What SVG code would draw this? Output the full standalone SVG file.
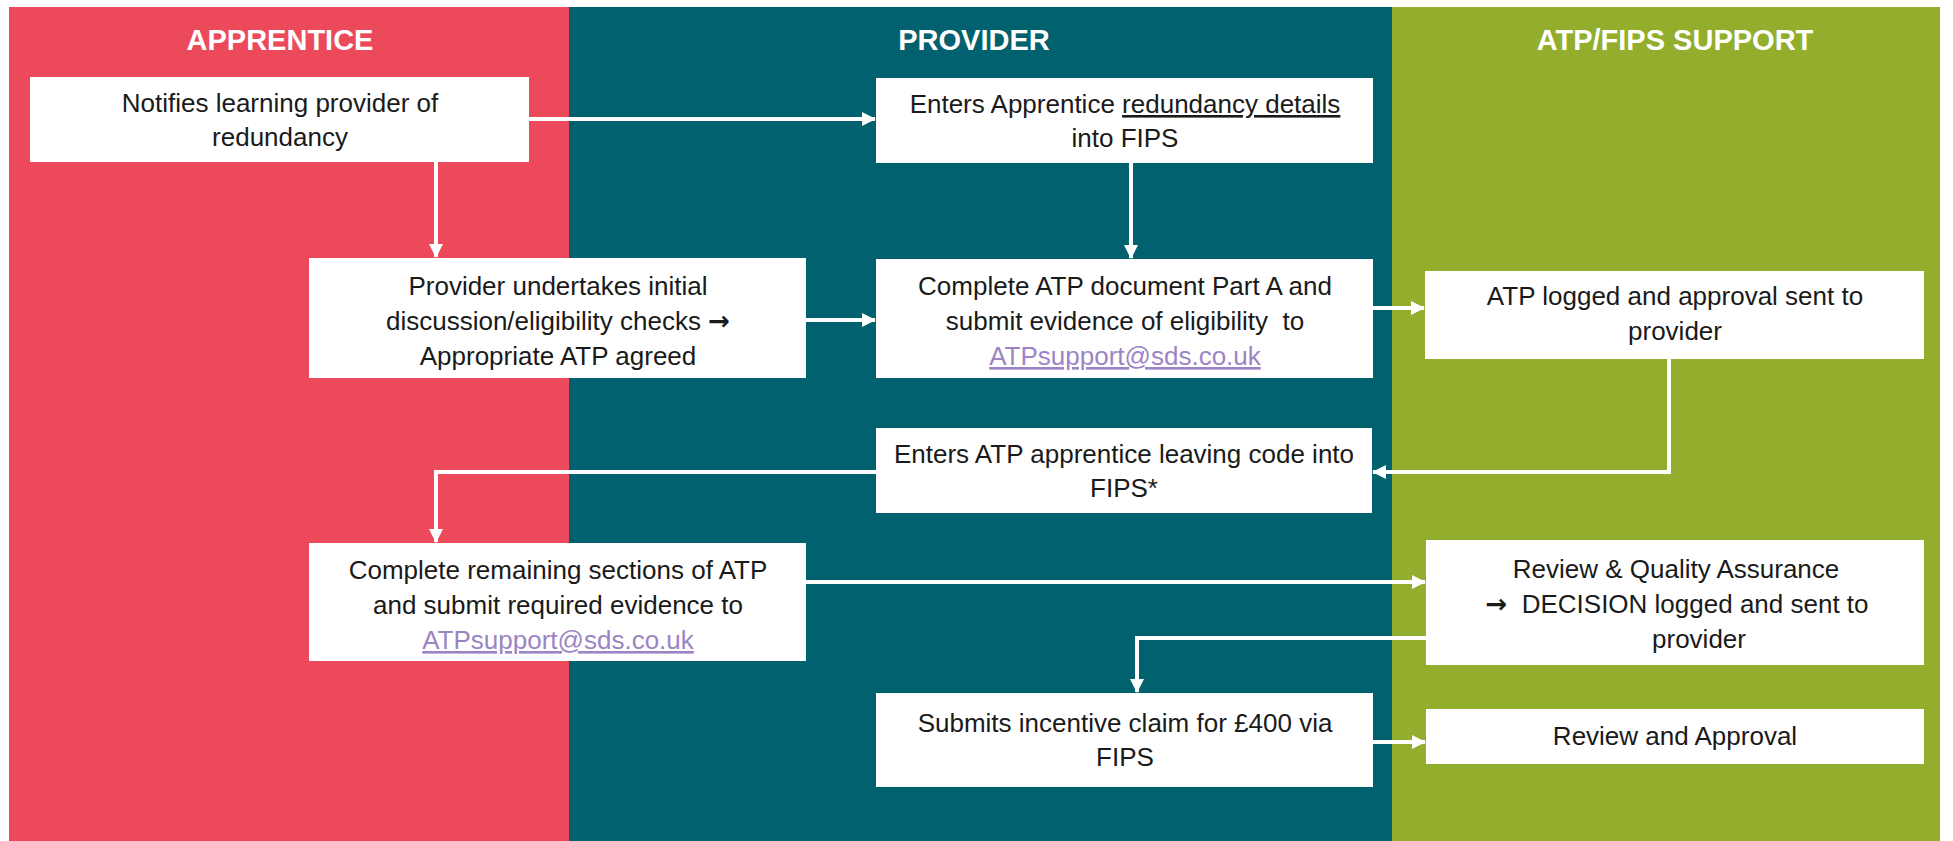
<svg xmlns="http://www.w3.org/2000/svg" width="1953" height="841" viewBox="0 0 1953 841">
<style>
.lane-title{font-family:"Liberation Sans",Arial,sans-serif;font-weight:bold;font-size:29px;fill:#ffffff;text-anchor:middle}
.box{fill:#ffffff}
.t{font-family:"Liberation Sans",Arial,sans-serif;font-size:26px;fill:#1a1a1a;text-anchor:middle}
.arr{font-family:"DejaVu Sans",sans-serif;font-weight:bold}
.link{fill:#9c84c4;text-decoration:underline}
.ul{text-decoration:underline}
.conn{fill:none;stroke:#ffffff;stroke-width:4}
</style>
<defs>
<marker id="ah" markerUnits="userSpaceOnUse" markerWidth="14" markerHeight="14" refX="13" refY="7" orient="auto">
<path d="M0,0 L14,7 L0,14 z" fill="#ffffff"/>
</marker>
</defs>
<rect x="0" y="0" width="1953" height="841" fill="#ffffff"/>
<g id="lanes">
<rect x="9" y="7" width="560" height="834" fill="#ec4a5a"/>
<rect x="569" y="7" width="823" height="834" fill="#01616f"/>
<rect x="1392" y="7" width="548" height="834" fill="#92ae2c"/>
<text class="lane-title" x="280" y="50">APPRENTICE</text>
<text class="lane-title" x="974" y="50">PROVIDER</text>
<text class="lane-title" x="1675" y="50">ATP/FIPS SUPPORT</text>
</g>
<g id="connectors">
<path class="conn" d="M529,119 L875,119" marker-end="url(#ah)"/>
<path class="conn" d="M436,162 L436,257" marker-end="url(#ah)"/>
<path class="conn" d="M1131,163 L1131,258" marker-end="url(#ah)"/>
<path class="conn" d="M806,320 L875,320" marker-end="url(#ah)"/>
<path class="conn" d="M1373,308 L1424,308" marker-end="url(#ah)"/>
<path class="conn" d="M1669,359 L1669,472 L1373,472" marker-end="url(#ah)"/>
<path class="conn" d="M876,472 L436,472 L436,542" marker-end="url(#ah)"/>
<path class="conn" d="M806,582 L1425,582" marker-end="url(#ah)"/>
<path class="conn" d="M1426,638 L1137,638 L1137,692" marker-end="url(#ah)"/>
<path class="conn" d="M1373,742 L1425,742" marker-end="url(#ah)"/>
</g>
<g id="n1">
<rect class="box" x="30" y="77" width="499" height="85"/>
<text class="t" x="280" y="112">Notifies learning provider of</text>
<text class="t" x="280" y="146">redundancy</text>
</g>
<g id="n2">
<rect class="box" x="876" y="78" width="497" height="85"/>
<text class="t" x="1125" y="113">Enters Apprentice <tspan class="ul">redundancy details</tspan></text>
<text class="t" x="1125" y="147">into FIPS</text>
</g>
<g id="n3">
<rect class="box" x="309" y="258" width="497" height="120"/>
<text class="t" x="558" y="295">Provider undertakes initial</text>
<text class="t" x="558" y="330">discussion/eligibility checks <tspan class="arr">→</tspan></text>
<text class="t" x="558" y="365">Appropriate ATP agreed</text>
</g>
<g id="n4">
<rect class="box" x="876" y="259" width="497" height="119"/>
<text class="t" x="1125" y="295">Complete ATP document Part A and</text>
<text class="t" x="1125" y="330" xml:space="preserve">submit evidence of eligibility  to</text>
<text class="t" x="1125" y="365"><tspan class="link">ATPsupport@sds.co.uk</tspan></text>
</g>
<g id="n5">
<rect class="box" x="1425" y="271" width="499" height="88"/>
<text class="t" x="1675" y="305">ATP logged and approval sent to</text>
<text class="t" x="1675" y="340">provider</text>
</g>
<g id="n6">
<rect class="box" x="876" y="428" width="496" height="85"/>
<text class="t" x="1124" y="463">Enters ATP apprentice leaving code into</text>
<text class="t" x="1124" y="497">FIPS*</text>
</g>
<g id="n7">
<rect class="box" x="309" y="543" width="497" height="118"/>
<text class="t" x="558" y="579">Complete remaining sections of ATP</text>
<text class="t" x="558" y="614">and submit required evidence to</text>
<text class="t" x="558" y="649"><tspan class="link">ATPsupport@sds.co.uk</tspan></text>
</g>
<g id="n8">
<rect class="box" x="1426" y="540" width="498" height="125"/>
<text class="t" x="1676" y="578">Review &amp; Quality Assurance</text>
<text class="t" x="1677" y="613" xml:space="preserve"><tspan class="arr">→</tspan>  DECISION logged and sent to</text>
<text class="t" x="1699" y="648">provider</text>
</g>
<g id="n9">
<rect class="box" x="876" y="693" width="497" height="94"/>
<text class="t" x="1125" y="732">Submits incentive claim for £400 via</text>
<text class="t" x="1125" y="766">FIPS</text>
</g>
<g id="n10">
<rect class="box" x="1426" y="709" width="498" height="55"/>
<text class="t" x="1675" y="745">Review and Approval</text>
</g>
</svg>
